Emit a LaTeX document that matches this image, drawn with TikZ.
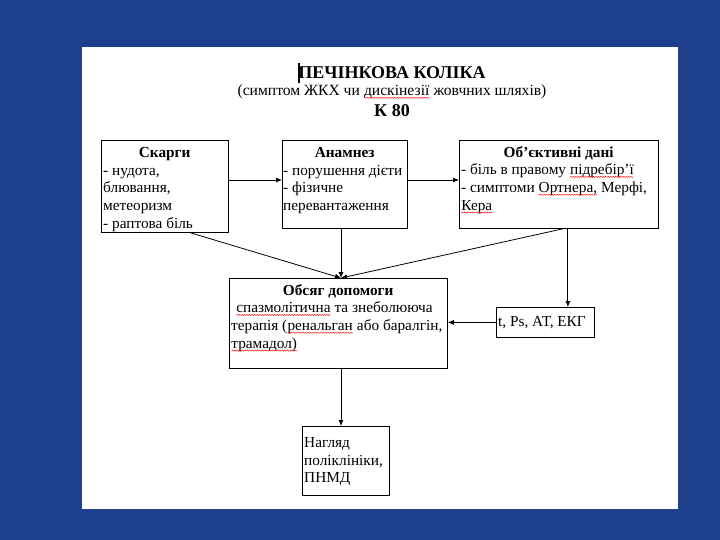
\documentclass[tikz,border=0pt]{standalone}
\usepackage{fontspec}
\setmainfont{Liberation Serif}
\usetikzlibrary{arrows.meta,calc,decorations.pathmorphing}
\definecolor{slideblue}{RGB}{30,63,140}
\newcommand\rwave[1]{\tikz[baseline=(w.base),x=1pt,y=1pt]{\node[inner sep=0,outer sep=0] (w) {#1};\draw[red,line width=0.4pt,decorate,decoration={snake,amplitude=0.6pt,segment length=2.5pt}] ([yshift=-2pt]w.base west) -- ([yshift=-2pt]w.base east);}}
\newcommand\fs{\fontsize{15.3}{17.8}\selectfont}
\begin{document}
\begin{tikzpicture}[x=1pt,y=-1pt,
  box/.style={draw,line width=0.8pt,inner sep=0,anchor=north west},
  txt/.style={inner sep=0,anchor=north west,font=\fs,align=flush left},
  arr/.style={line width=0.8pt,-{Latex[length=6pt,width=5pt]}}]
\useasboundingbox (0,0) rectangle (720,540);
\fill[slideblue] (0,0) rectangle (720,540);
\fill[white] (82,47) rectangle (678,509);
% titles
\node[inner sep=0,font=\fontsize{18}{20}\selectfont] (t1) at (392,73) {\bfseries ПЕЧІНКОВА КОЛІКА};
\fill[black] ([xshift=-0.5pt,yshift=-10pt]t1.west) rectangle ([xshift=2pt,yshift=10pt]t1.west);
\node[inner sep=0,font=\fontsize{15.6}{17}\selectfont] (t2) at (392,92) {(симптом ЖКХ чи \rwave{дискінезії} жовчних шляхів)};
\node[inner sep=0,font=\fontsize{18}{20}\selectfont] (t3) at (392,111) {\bfseries К 80};
% boxes
\node[box,minimum width=127,minimum height=92] (sk) at (101,140) {};
\node[box,minimum width=125,minimum height=88] (an) at (282,140) {};
\node[box,minimum width=199,minimum height=88] (ob) at (459,140) {};
\node[box,minimum width=218,minimum height=90] (os) at (229,278) {};
\node[box,minimum width=98,minimum height=30] (tp) at (496,307) {};
\node[box,minimum width=87,minimum height=69] (nh) at (302,426) {};
% texts
\node[txt,text width=123] (skt) at ([xshift=2,yshift=-7]sk.north west)
 {\makebox[\linewidth][c]{\bfseries Скарги}\\- нудота,\\блювання,\\метеоризм\\- раптова біль};
\node[txt,text width=123] (ant) at ([xshift=1,yshift=-7]an.north west)
 {\makebox[\linewidth][c]{\bfseries Анамнез}\\- порушення дієти\\- фізичне\\перевантаження};
\node[txt,text width=195] (obt) at ([xshift=2,yshift=-6]ob.north west)
 {\makebox[\linewidth][c]{\bfseries Об’єктивні дані}\\- біль в правому \rwave{підребір’ї}\\- симптоми \rwave{Ортнера,} Мерфі,\\\rwave{Кера}};
\node[txt,text width=214] (ost) at ([xshift=2,yshift=-6]os.north west)
 {\makebox[\linewidth][c]{\bfseries Обсяг допомоги}\\\hspace*{5pt}\rwave{спазмолітична} та знеболююча\\терапія (\rwave{ренальган} або баралгін,\\\rwave{трамадол)}};
\node[txt] (tpt) at ([xshift=2,yshift=-9]tp.north west) {t, Ps, АТ, ЕКГ};
\node[txt,text width=84] (nht) at ([xshift=2,yshift=-11]nh.north west)
 {Нагляд\\поліклініки,\\ПНМД};
% connectors
\coordinate (cv) at (341,278);
\draw[arr] (sk.east |- 0,180) -- (an.west |- 0,180);
\draw[arr] (an.east |- 0,180) -- (ob.west |- 0,180);
\draw[arr] (an.south -| cv) -- (cv);
\draw[arr] ($(sk.south west)!0.7!(sk.south east)$) -- (cv);
\draw[arr] ($(ob.south west)!0.52!(ob.south east)$) -- (cv);
\coordinate (ov) at ($(ob.south west)!0.545!(ob.south east)$);
\draw[arr] (ov) -- (ov |- tp.north);
\draw[arr] (tp.west) -- (tp.west -| os.east);
\draw[arr] (os.south -| cv) -- (nh.north -| cv);
\end{tikzpicture}
\end{document}
